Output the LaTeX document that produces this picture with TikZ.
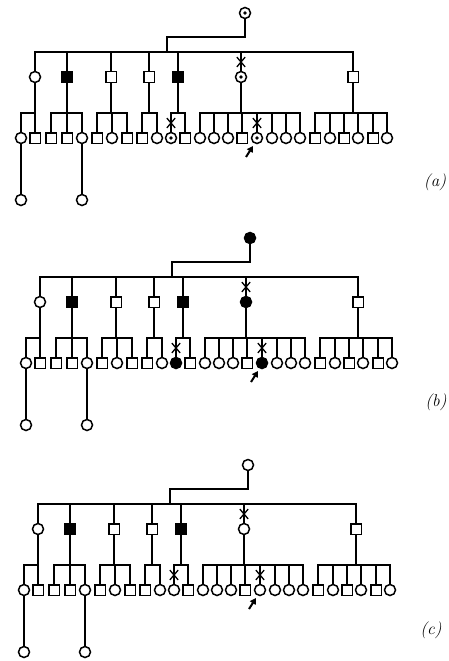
\documentclass[tikz,border=0pt]{standalone}
\usetikzlibrary{shapes.misc,arrows.meta}

\tikzset{
  ln/.style={line width=1.6pt, line cap=rect},
  male/.style={draw, rectangle, minimum size=10.5pt, inner sep=0pt, line width=1.5pt},
  female/.style={draw, circle, minimum size=11pt, inner sep=0pt, line width=1.5pt},
  aff/.style={fill=black},
  dotc/.style={female, path picture={\fill (path picture bounding box.center) circle (1.9pt);}},
  fullc/.style={female, fill=black},
  plainc/.style={female},
  xmark/.style={draw, cross out, minimum width=7pt, minimum height=8.5pt, inner sep=0pt, line width=1.3pt},
  pointer/.style={-{Triangle[length=6pt,width=6.5pt]}, line width=2pt},
  tag/.style={font=\itshape\fontsize{17}{20}\selectfont},
}

% one sibship: parent, first child, last child, all children
\newcommand{\family}[4]{%
  \draw[ln] (#1) -- (#1 |- 0,113);
  \draw[ln] (#2 |- 0,113) -- (#3 |- 0,113);
  \foreach \m in {#4} \draw[ln] (\m) -- (\m |- 0,113);
}

% whole pedigree: shift, style of the carriers, prefix of the names
\newcommand{\pedigree}[3]{%
\begin{scope}[shift={#1}]
  % generation I
  \node[#2] (#3f) at (245,13) {};
  \coordinate (#3k) at (167,37);
  \draw[ln] (#3f) |- (#3k) -- (#3k |- 0,52);

  % generation II
  \node[female] (#3g1) at (35,77) {};
  \node[male, aff] (#3g2) at (67,77) {};
  \node[male] (#3g3) at (111,77) {};
  \node[male] (#3g4) at (149,77) {};
  \node[male, aff] (#3g5) at (178,77) {};
  \node[#2] (#3g6) at (241,77) {};
  \node[male] (#3g7) at (353,77) {};
  \draw[ln] (#3g1 |- 0,52) -- (#3g7 |- 0,52);
  \foreach \m in {g1,g2,g3,g4,g5,g6,g7}
    \draw[ln] (#3\m) -- (#3\m |- 0,52);
  \node[xmark] (#3x1) at (#3g6 |- 0,62) {};

  % generation III
  \foreach \n/\x in {2/35,3/51,4/67,6/97,8/127,9/142,12/185,16/242,21/315,23/344,25/373}
    \node[male] (#3c\n) at (\x,138) {};
  \foreach \n/\x in {1/21,5/82,7/112,10/157,13/200,14/214,15/228,18/272,19/286,20/300,22/330,24/358,26/387}
    \node[female] (#3c\n) at (\x,138) {};
  \node[#2] (#3c11) at (171,138) {};
  \node[#2] (#3c17) at (257,138) {};

  \family{#3g1}{#3c1}{#3c2}{#3c1,#3c2}
  \family{#3g2}{#3c3}{#3c5}{#3c3,#3c4,#3c5}
  \family{#3g3}{#3c6}{#3c8}{#3c6,#3c7,#3c8}
  \family{#3g4}{#3c9}{#3c10}{#3c9,#3c10}
  \family{#3g5}{#3c11}{#3c12}{#3c11,#3c12}
  \family{#3g6}{#3c13}{#3c20}{#3c13,#3c14,#3c15,#3c16,#3c17,#3c18,#3c19,#3c20}
  \family{#3g7}{#3c21}{#3c26}{#3c21,#3c22,#3c23,#3c24,#3c25,#3c26}

  \node[xmark] (#3x2) at (#3c11 |- 0,123) {};
  \node[xmark] (#3x3) at (#3c17 |- 0,123) {};

  % proband
  \coordinate (#3t) at (246,157);
  \coordinate (#3h) at (253,146);
  \draw[pointer] (#3t) -- (#3h);

  % generation IV
  \node[female] (#3d1) at (21,200) {};
  \node[female] (#3d2) at (82,200) {};
  \draw[ln] (#3c1) -- (#3d1);
  \draw[ln] (#3c5) -- (#3d2);
\end{scope}
}

\begin{document}
\begin{tikzpicture}[x=1pt, y=-1pt]
  \useasboundingbox (0,0) rectangle (449,661);

  \pedigree{(0,0)}{dotc}{a}
  \pedigree{(5,225)}{fullc}{b}
  \pedigree{(3,452)}{plainc}{c}

  \node[tag] (la) at (435,182) {(a)};
  \node[tag] (lb) at (436,402) {(b)};
  \node[tag] (lc) at (431,630) {(c)};
\end{tikzpicture}
\end{document}
